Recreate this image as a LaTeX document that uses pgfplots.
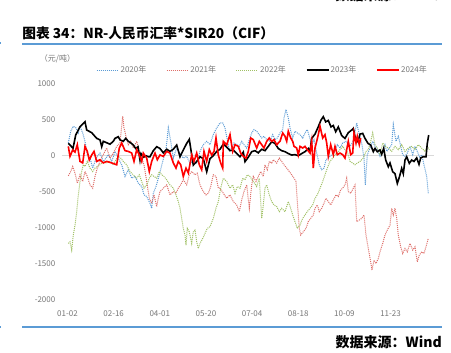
\documentclass[border=0pt]{standalone}
\usepackage{fontspec}
\setmainfont{Noto Sans CJK SC}
\usepackage{pgfplots}
\pgfplotsset{compat=1.18}
\definecolor{c2020}{RGB}{91,155,213}
\definecolor{c2021}{RGB}{222,110,105}
\definecolor{c2022}{RGB}{160,192,100}
\definecolor{c2024}{RGB}{255,0,0}
\definecolor{tickgray}{RGB}{118,118,118}
\definecolor{rulecol}{RGB}{91,155,213}
\definecolor{zerogray}{RGB}{217,217,217}
\begin{document}
\begin{tikzpicture}[x=0.75pt,y=0.75pt]
\useasboundingbox (0,0) rectangle (451,353);
\node[anchor=west,inner sep=0pt,font=\fontsize{10.3}{12}\selectfont\bfseries] at (22,320) {图表 34：NR-人民币汇率*SIR20（CIF）};
\draw[rulecol,line width=1.5pt] (22,309) -- (442,309);
\draw[rulecol,line width=1.5pt] (-3,310) -- (1.5,310);
\draw[rulecol,line width=1.5pt] (22,26) -- (442,26);
\draw[rulecol,line width=1.5pt] (-3,26) -- (1.5,26);
\node[anchor=east,inner sep=0pt,font=\fontsize{10.5}{12}\selectfont\bfseries] at (442,11) {数据来源：Wind};
\node[anchor=east,inner sep=0pt,font=\fontsize{10.5}{12}\selectfont\bfseries] at (442,358) {数据来源：Wind};
\node[inner sep=0pt,font=\fontsize{6}{7}\selectfont,text=tickgray] at (57.5,294) {（元/吨）};
\begin{axis}[
  at={(60,74)}, anchor=south west,
  scale only axis, width=282pt, height=162pt,
  xmin=60, xmax=436, ymin=-2000, ymax=1000,
  ytick={-2000,-1500,-1000,-500,0,500,1000},
  xtick={67.5,113.65,159.8,205.95,252.1,298.25,344.4,390.55},
  xticklabels={01-02,02-16,04-01,05-20,07-04,08-18,10-09,11-23},
  axis line style={draw=none},
  major tick length=0pt,
  /pgf/number format/assume math mode=true,
  /pgf/number format/1000 sep={},
  ticklabel style={font=\fontsize{6}{7}\selectfont, text=tickgray},
  xticklabel style={yshift=-4.5pt},
  legend style={at={(axis description cs:0.0957,1.0625)}, anchor=west, draw=none, fill=none, inner sep=0pt,
    font=\fontsize{6}{7}\selectfont, text=tickgray, legend columns=5,
    /tikz/every even column/.append style={column sep=13.8pt}, nodes={inner sep=1pt}},
  legend image code/.code={\draw[#1] (0pt,0pt) -- (16.5pt,0pt);},
]
\addplot[zerogray, line width=0.75pt, forget plot] coordinates {(62,0) (434,0)};
% 2020
\addplot[c2020, line width=0.75pt, dash pattern=on 0.75pt off 0.75pt] coordinates {
(68.3,177)(70.7,340)(73.3,409)(76,386)(78.3,316)(80,409)(82.7,316)(85,200)(87.3,14)(90,-33)
(92.7,-172)(95,-79)(97.3,-9)(100,37)(103.3,-79)(106,-33)(108.3,14)(111.7,-79)(115,60)(118.3,-33)
(121.7,-126)(125,-288)(128.3,-195)(131.7,-312)(135,-288)(138.3,-381)(141.7,-428)(144,-544)(146.7,-567)(150,-660)
(151.7,-730)(153.3,-521)(156,-428)(159.3,-265)(162.7,-79)(166,84)(168.3,386)(170.7,200)(173.3,-33)(176.7,107)
(180,37)(183.3,-33)(186.7,-9)(190,-102)(192.7,-79)(196.7,-102)(200,60)(203.3,153)(206.7,200)(210,153)
(213.3,293)(216.7,386)(220,456)(222.7,456)(225,386)(227.3,223)(229.3,84)(231.7,107)(234,177)(236.7,153)
(239.3,130)(241.7,200)(244,153)(246.7,107)(249.3,223)(251.7,316)(254,363)(256.7,340)(259.3,293)(261.7,246)
(264,270)(266.7,223)(270,200)(272.7,293)(275,223)(277.3,246)(280,316)(282.7,363)(284,525)(286,642)
(288.3,525)(290,386)(292.7,246)(295,340)(297.3,316)(300,293)(302.7,246)(306,340)(307.3,363)(309.3,270)
(311.7,153)(314,223)(316.7,37)(319.3,-126)(321.7,-195)(324,-172)(326,-56)(328.3,-33)(331.7,14)(335,60)
(337.3,153)(340,107)(342.7,177)(346,200)(350,130)(353.3,200)(356.7,456)(359.3,293)(361.7,177)(364,-33)
(365.3,-405)(367.3,14)(370,107)(372.7,200)(375,130)(377.3,84)(380,-9)(382.7,60)(385,153)(386.7,60)
(389.3,107)(391.7,153)(393.3,432)(396,200)(398.3,270)(400,177)(402.7,14)(405,-9)(407.3,37)(410,130)
(412.7,14)(415,130)(417.3,60)(420,-33)(421.7,14)(424,-126)(426.7,-288)(428.3,-521)};
\addlegendentry{2020年}
% 2021
\addplot[c2021, line width=0.75pt, dash pattern=on 0.75pt off 0.75pt] coordinates {
(68.3,-279)(70.7,-219)(72.7,-149)(75,-242)(77.3,-381)(80,-265)(82.7,-358)(85,-219)(87.3,-288)(90,-405)
(92.7,-451)(95,-288)(97.3,-172)(100,-79)(103.3,14)(106.7,107)(110,-33)(113.3,37)(116.7,130)(120,177)
(122.7,549)(124,386)(126,270)(128.3,153)(130.7,200)(133.3,107)(136.7,200)(139.3,60)(141.7,-33)(144,-126)
(146.7,-358)(149.3,-590)(151.7,-660)(154,-544)(156.7,-707)(158.3,-590)(160,-498)(163.3,-451)(166.7,-405)(170,-544)
(173.3,-498)(176,-521)(178.3,-451)(180.7,-405)(183.3,-335)(186.7,-405)(189.3,-265)(191.7,-219)(195,-265)(197.3,-242)
(200,-405)(203.3,-498)(206,-544)(208.3,-521)(210.7,-428)(213.3,-265)(216,-288)(218.3,-451)(220,-451)(223.3,-521)
(226.7,-591)(230,-544)(233.3,-637)(236.7,-684)(239.3,-777)(241.7,-614)(244,-498)(246.7,-405)(249.3,-730)(251.7,-405)
(253.3,-288)(256,-358)(258.3,-288)(260.7,-219)(263.3,-288)(265,-126)(267.3,-195)(269.3,-79)(271.7,-102)(273.3,-56)
(275,-79)(276.7,-102)(279.3,-33)(281.7,-79)(284,-126)(286.7,-172)(289.3,-219)(291.7,-265)(294,-312)(296,-358)
(297.3,-637)(299.3,-1009)(300.7,-1102)(303.3,-1056)(306,-1009)(308.3,-916)(310.7,-870)(313.3,-823)(315,-730)(317.3,-684)
(319.3,-777)(321.7,-730)(324,-660)(326,-591)(328.3,-637)(330.7,-684)(333.3,-614)(336,-544)(338.3,-567)(340.7,-474)
(342.7,-451)(345,-405)(346.7,-312)(348.3,-498)(350.7,-521)(353.3,-451)(355,-405)(356.7,-916)(359.3,-893)(361.7,-870)
(364,-823)(366,-1102)(368.3,-1288)(370.7,-1474)(372,-1590)(374,-1451)(376,-1497)(378.3,-1428)(380,-1335)(382.7,-1218)
(385,-1102)(387.3,-1032)(390,-963)(391.7,-730)(393.3,-823)(395,-730)(396.7,-870)(398.3,-1102)(400.7,-1265)(402.7,-1358)
(405,-1288)(407.3,-1335)(410,-1218)(412.7,-1311)(415,-1265)(417.3,-1474)(419.3,-1381)(421.7,-1335)(424,-1358)(426,-1265)
(428.3,-1149)};
\addlegendentry{2021年}
% 2022
\addplot[c2022, line width=0.75pt, dash pattern=on 0.75pt off 0.75pt] coordinates {
(68.3,-1218)(70,-1195)(71.7,-1311)(73.3,-1102)(75,-963)(76.7,-777)(78.3,-544)(80,-358)(81.7,-219)(83.3,-126)
(85,-149)(87.3,-79)(90,-172)(92.7,-219)(95,-172)(97.3,-149)(100,-126)(103.3,-79)(106.7,-102)(110,-79)
(113.3,-126)(116,-56)(118.3,-9)(120.7,-33)(123.3,-79)(126.7,-126)(130,-219)(133.3,-265)(136.7,-312)(139.3,-265)
(141.7,-358)(144,-451)(146.7,-405)(149.3,-312)(151.7,-265)(154,-288)(156.7,-312)(159.3,-219)(161.7,-265)(164,-288)
(166.7,-335)(170,-405)(173.3,-451)(176,-544)(178.3,-637)(180,-730)(181.7,-870)(183.3,-1009)(185,-1102)(186,-1242)
(187.3,-1009)(189.3,-1056)(191.7,-1218)(193.3,-1056)(195,-1032)(196.7,-1195)(198.3,-1288)(200,-1218)(202.7,-1149)(205,-1079)
(207.3,-1009)(210,-986)(213.3,-870)(216,-730)(218.3,-637)(220.7,-451)(223.3,-312)(226.7,-358)(230,-451)(232.7,-405)
(235,-521)(237.3,-428)(240,-451)(242.7,-312)(245,-335)(247.3,-265)(250,-288)(253.3,-358)(256.7,-428)(259.3,-312)
(261.7,-870)(263.3,-684)(265,-451)(266.7,-405)(269.3,-544)(271.7,-637)(274,-684)(276.7,-707)(279.3,-777)(281.7,-730)
(285,-777)(288.3,-637)(290.7,-730)(292.7,-823)(295,-916)(297.3,-1009)(300,-963)(302.7,-870)(305,-823)(307.3,-777)
(310,-730)(312.7,-684)(315,-591)(317.3,-544)(320,-451)(322.7,-358)(325,-265)(327.3,-172)(330,-79)(332.7,-33)
(335,14)(337.3,37)(340,84)(342.7,130)(345,84)(347.3,60)(350,-79)(352.7,-102)(355,-126)(357.3,-102)
(360,-79)(363.3,-33)(366,60)(368.3,84)(370.7,200)(372.7,316)(375,153)(377.3,107)(380,14)(382.7,177)
(385,130)(388.3,107)(391.7,60)(395,130)(398.3,84)(401.7,153)(405,60)(408.3,107)(411.7,130)(415,84)
(418.3,153)(421.7,107)(425,60)(427.3,130)(429.3,84)};
\addlegendentry{2022年}
% 2023
\addplot[black, line width=1.2pt] coordinates {
(68.3,171)(70,150)(73,102)(75.7,287)(80,403)(83.3,449)(85,472)(86.7,357)(91.7,320)(96.7,241)
(100,220)(101.7,125)(103.3,200)(106.7,180)(110,160)(113.3,200)(115,241)(118.3,264)(120,220)(123.3,200)
(125.7,241)(128.3,200)(131,175)(133.3,150)(135.7,100)(138,125)(140,-60)(141,30)(143.7,-20)(146,0)
(148.3,-14)(150,-14)(153.3,70)(156.7,125)(160,100)(163.3,40)(166.7,90)(170,60)(173.3,90)(176.7,148)
(180,-14)(183.3,80)(186.7,171)(189.3,227)(193.3,-130)(196.7,-80)(200,-14)(203.3,-40)(206.7,-222)(210,-40)
(213.3,0)(216.7,60)(220,90)(223.3,160)(226.7,120)(230,70)(233.3,80)(236.7,30)(240,-14)(243.3,50)
(245,-83)(248.3,-20)(251.7,56)(255,70)(258.3,40)(261.7,90)(265,70)(268.3,130)(271.7,194)(275,170)
(278.3,100)(281.7,70)(285,56)(288.3,30)(291.7,9)(295,15)(298.3,0)(301.7,30)(305,56)(308.3,100)
(310,56)(311.7,241)(315,300)(318.3,403)(321,495)(323.3,542)(325.7,470)(328.3,490)(331,400)(333.3,420)
(335.7,333)(338.3,400)(341.7,280)(345,240)(348.3,320)(351.7,357)(353.3,380)(355,264)(358,194)(360,300)
(362.7,310)(365,241)(368,171)(370.7,148)(373.3,56)(375,100)(377.3,56)(380,80)(381.7,20)(383.7,102)
(385.7,-60)(388.3,-153)(390,-100)(392.7,-222)(395,-250)(397.3,-384)(399.3,-300)(401.7,-176)(403.3,-250)(405,-60)
(406.7,-14)(409.3,-106)(411.7,-60)(414,-80)(416.7,-30)(419,-120)(420.7,-30)(423.3,-14)(426,-14)(427.3,171)
(428.7,287)};
\addlegendentry{2023年}
% 2024
\addplot[c2024, line width=1.2pt] coordinates {
(68.3,130)(70,-9)(72.7,80)(75,50)(77.3,153)(80,-79)(82.7,-100)(85,130)(87.3,60)(89.3,-60)
(91.7,10)(94,60)(96.7,-79)(100,-56)(103.3,-100)(106.7,-79)(111.7,-100)(116.7,-126)(119.3,107)(121.7,177)
(125,70)(128.3,60)(131.7,37)(134,-79)(136.7,84)(139.3,10)(141.7,-79)(143.3,37)(146.7,-33)(149.3,-219)
(151.7,-79)(155,37)(157.3,-56)(160,10)(163.3,-9)(166.7,60)(170,37)(173.3,-100)(176,-172)(178.3,-79)
(180.7,-126)(183.3,-288)(186,-172)(188.3,-240)(191.7,10)(194,-79)(196.7,37)(199.3,-126)(201.7,-196)(204,60)
(206.7,-79)(209.3,84)(211.7,10)(214,60)(216,246)(218.3,10)(220.7,-102)(222.7,-172)(223.3,200)(226.7,150)
(230,293)(232.7,60)(235,153)(238.3,130)(240.7,37)(243.3,-9)(246,-33)(248.3,60)(250.7,246)(253.3,223)
(256.7,107)(259.3,200)(261.7,153)(264,107)(266.7,200)(269.3,246)(271.7,200)(274,223)(276.7,153)(280,200)
(282.7,316)(285,270)(286.7,200)(288.3,340)(290.7,246)(292.7,200)(294,130)(296.7,107)(298.3,9)(300,130)
(302.7,107)(305,130)(307.3,84)(310,37)(311.7,200)(313.3,-172)(315,107)(316.7,200)(318.3,293)(320,409)
(322.7,246)(325,293)(326.7,177)(328.3,-9)(330.7,153)(333.3,14)(335,130)(337.3,14)(340,37)(342.7,14)
(345,-33)(346.7,84)(348.3,200)(350.7,14)(352.7,37)(354,316)(356,177)(357.3,270)(359.3,153)(360.7,246)};
\addlegendentry{2024年}
\end{axis}
\end{tikzpicture}
\end{document}
